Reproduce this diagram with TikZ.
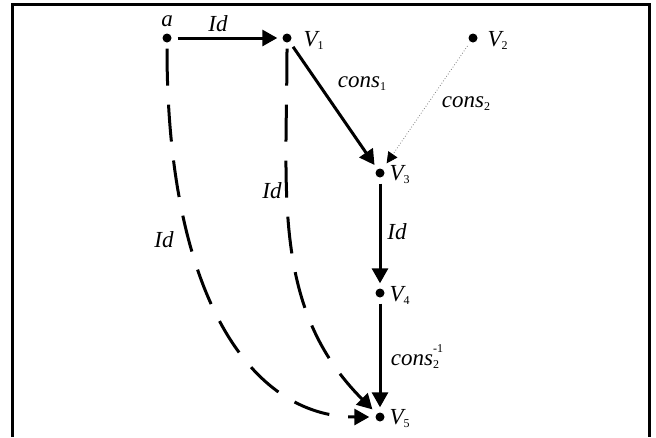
\documentclass[tikz,border=0pt]{standalone}
\usepackage{fontspec}
\setmainfont{Liberation Serif}
\usetikzlibrary{arrows.meta}

% small index low on the baseline, and one above it
\newcommand{\lowidx}[1]{\raisebox{-3pt}{\fontsize{12}{12}\selectfont\upshape #1}}
\newcommand{\highidx}[1]{\makebox[0pt][l]{\raisebox{13pt}{\fontsize{12}{12}\selectfont\upshape #1}}}

\begin{document}
\begin{tikzpicture}[x=1pt, y=-1pt,
    every node/.style={font=\fontsize{23}{27}\selectfont\itshape},
    dot/.style={circle, fill=black, inner sep=0pt, minimum size=9pt},
    solidarrow/.style={line width=3pt, -{Triangle[length=15pt, width=16pt]}, shorten <=6pt, shorten >=5pt},
    dottedarrow/.style={gray, line width=0.8pt, dotted, -{Triangle[length=11pt, width=11pt, black]}, shorten <=5pt, shorten >=7pt},
    dashedarrow/.style={line width=3pt, dash pattern=on 37pt off 19pt, -{Triangle[length=15pt, width=16pt]}, shorten <=6pt, shorten >=6pt}]
                \useasboundingbox (0,0) rectangle (656,437);
                \draw[line width=3pt] (12.5,437) -- (12.5,4) -- (649,4) -- (649,437);
                % points
                \node[dot] (a) at (167,38) {};
                \node[dot] (v1) at (287,38) {};
                \node[dot] (v2) at (473,38) {};
                \node[dot] (v3) at (380,173) {};
                \node[dot] (v4) at (380,293) {};
                \node[dot] (v5) at (380,417) {};
                \node (la) at (167,21) {a};
                \node[anchor=west] (lv1) at (300,40) {V\lowidx{1}};
                \node[anchor=west] (lv2) at (484,40) {V\lowidx{2}};
                \node[anchor=west] (lv3) at (386,175) {V\lowidx{3}};
                \node[anchor=west] (lv4) at (386,295) {V\lowidx{4}};
                \node[anchor=west] (lv5) at (386,419) {V\lowidx{5}};
                % maps
                \draw[solidarrow] (a) -- (v1);
                \draw[solidarrow] (v1) -- (v3);
                \draw[dottedarrow] (v2) -- (v3);
                \draw[solidarrow] (v3) -- (v4);
                \draw[solidarrow] (v4) -- (v5);
                \draw[dashedarrow] (a) to[out=-90, in=180, out looseness=1.5, in looseness=0.75] (v5);
                \draw[dashedarrow] (v1) to[out=-90, in=135] (v5);
                \node (id1) at (218,24) {Id};
                \node (c1) at (362,84) {cons\lowidx{1}};
                \node (c2) at (466,104) {cons\lowidx{2}};
                \node (id2) at (397,232) {Id};
                \node (c3) at (415,357) {cons\highidx{-1}\lowidx{2}};
                \node (id3) at (164,240) {Id};
                \node (id4) at (272,191) {Id};
            \end{tikzpicture}
\end{document}
